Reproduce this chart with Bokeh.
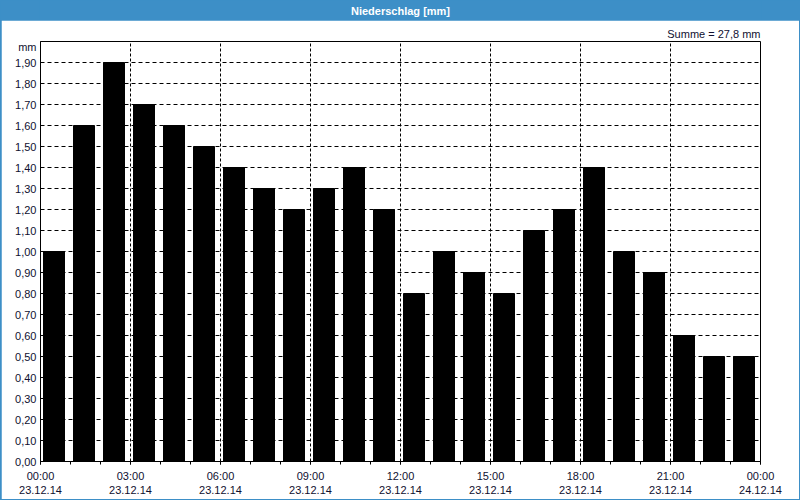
from bokeh.plotting import figure
from bokeh.models import (ColumnDataSource, FixedTicker, CustomJSTickFormatter, Label, Range1d, Title)
from bokeh.layouts import column
from bokeh.embed import file_html
from bokeh.resources import INLINE

# ---- data ----
hours = list(range(24))
precip = [1.0, 1.6, 1.9, 1.7, 1.6, 1.5, 1.4, 1.3, 1.2, 1.3, 1.4, 1.2,
          0.8, 1.0, 0.9, 0.8, 1.1, 1.2, 1.4, 1.0, 0.9, 0.6, 0.5, 0.5]
x_tick_hours = [0, 3, 6, 9, 12, 15, 18, 21, 24]
x_tick_labels = ["00:00\n23.12.14", "03:00\n23.12.14", "06:00\n23.12.14",
                 "09:00\n23.12.14", "12:00\n23.12.14", "15:00\n23.12.14",
                 "18:00\n23.12.14", "21:00\n23.12.14", "00:00\n24.12.14"]
y_ticks = [round(i * 0.1, 1) for i in range(0, 20)]
title_text = "Niederschlag [mm]"
unit_text = "mm"
sum_text = "Summe = 27,8 mm"

BLUE = "#3d8fc7"
FONT = "Liberation Sans"
TXT = "#101030"

# ---- title bar ----
tfig = figure(width=800, height=20, x_range=Range1d(0, 1), y_range=Range1d(0, 1),
              toolbar_location=None, output_backend="svg",
              min_border=0, min_border_left=0, min_border_right=0,
              min_border_top=0, min_border_bottom=0)
tfig.axis.visible = False
tfig.grid.visible = False
tfig.outline_line_color = None
tfig.background_fill_color = BLUE
tfig.border_fill_color = BLUE
tfig.add_layout(Label(x=0.5, y=0.5, text=title_text, text_align="center",
                      text_baseline="middle", text_color="white",
                      text_font=FONT, text_font_size="11px", text_font_style="bold"))

# ---- main chart ----
src = ColumnDataSource(dict(x=[h + 0.45 for h in hours], top=precip))

p = figure(width=798, height=479, x_range=Range1d(0, 24), y_range=Range1d(0, 2.0),
           toolbar_location=None, output_backend="svg",
           min_border_left=39, min_border_right=39, min_border_top=21,
           min_border_bottom=38, margin=(0, 1, 1, 1))
p.background_fill_color = "white"
p.border_fill_color = "white"
p.outline_line_color = "black"
p.outline_line_width = 1

p.vbar(x="x", top="top", width=0.7, bottom=0, source=src,
       fill_color="black", line_color="black")

# x axis
p.xaxis.ticker = FixedTicker(ticks=x_tick_hours, minor_ticks=list(range(25)))
p.xaxis.major_label_overrides = {t: l for t, l in zip(x_tick_hours, x_tick_labels)}
p.xaxis.major_tick_out = 3
p.xaxis.major_tick_in = 0
p.xaxis.minor_tick_out = 3
p.xaxis.minor_tick_in = 0
p.xaxis.major_label_standoff = 5
p.xaxis.axis_line_color = "black"

# y axis (extra tick just below the top carries the unit label)
UNIT_POS = 1.976
p.yaxis.ticker = FixedTicker(ticks=y_ticks + [UNIT_POS])
p.yaxis.formatter = CustomJSTickFormatter(
    args=dict(unit=unit_text, upos=UNIT_POS),
    code="if (Math.abs(tick - upos) < 1e-6) { return unit; } return tick.toFixed(2).replace('.', ',');")
p.yaxis.major_tick_out = 0
p.yaxis.major_tick_in = 0
p.yaxis.minor_tick_out = 0
p.yaxis.minor_tick_in = 0
p.yaxis.major_label_standoff = 4
p.yaxis.axis_line_color = "black"

for ax in (p.xaxis, p.yaxis):
    ax.major_label_text_font = FONT
    ax.major_label_text_font_size = "11px"
    ax.major_label_text_color = TXT

# grids
p.xgrid.ticker = FixedTicker(ticks=[3, 6, 9, 12, 15, 18, 21])
p.xgrid.grid_line_color = "black"
p.xgrid.grid_line_dash = "3 2"
p.xgrid.grid_line_width = 1
p.ygrid.ticker = FixedTicker(ticks=[round(i * 0.1, 1) for i in range(1, 20)])
p.ygrid.grid_line_color = "black"
p.ygrid.grid_line_dash = "4 3"
p.ygrid.grid_line_width = 1

# sum annotation above the frame, right aligned
p.add_layout(Title(text=sum_text, align="right", text_font=FONT, text_font_size="11px",
                   text_font_style="normal", text_color=TXT, standoff=3, offset=0), "above")

layout = column(tfig, p, width=800, height=500, spacing=0,
                styles={"background-color": BLUE})

open("out.html", "w").write(file_html(layout, INLINE))
